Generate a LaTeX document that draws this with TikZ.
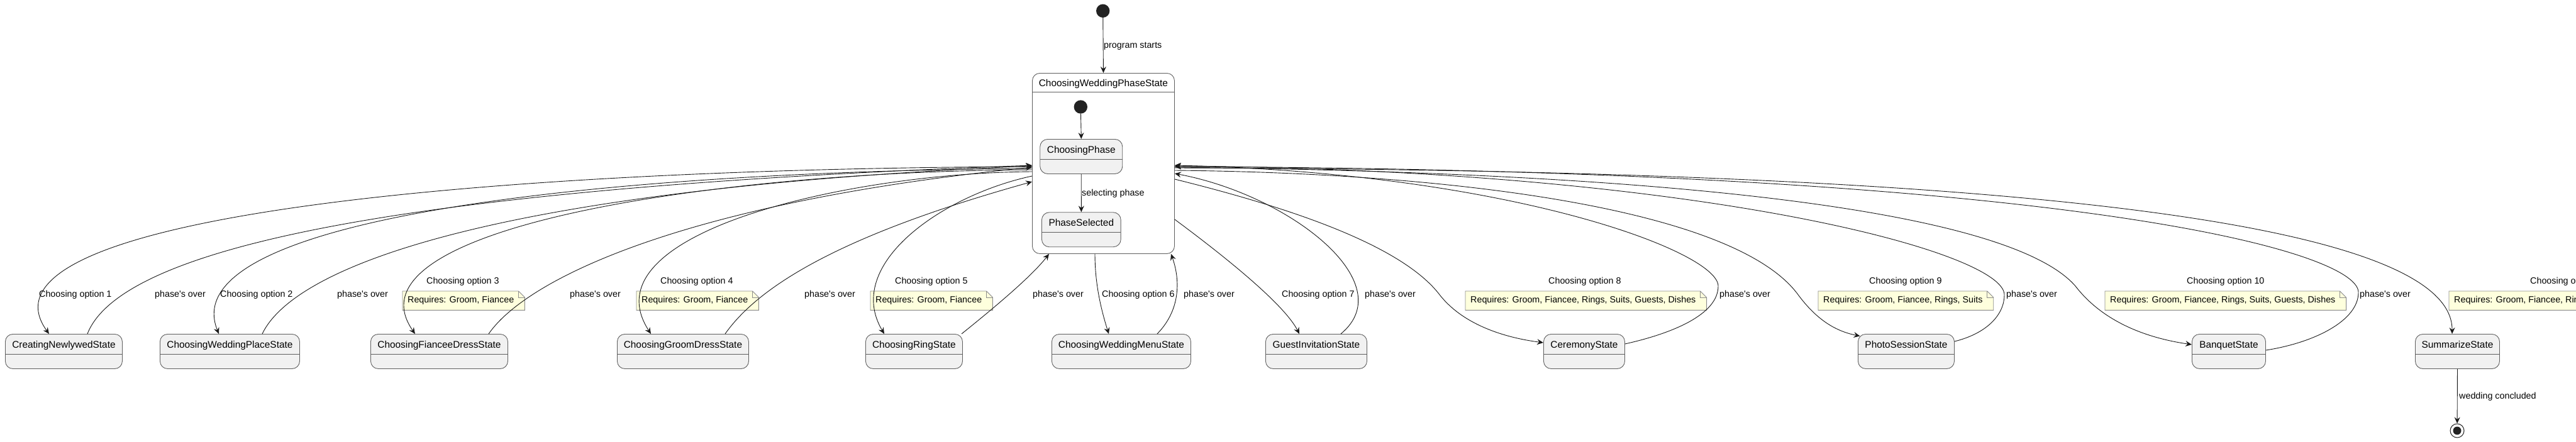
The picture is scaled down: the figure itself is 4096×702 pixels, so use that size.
\documentclass[tikz,border=0pt]{standalone}
\usepackage{fontspec}
\setmainfont{Liberation Sans}
\usetikzlibrary{arrows.meta}

\definecolor{statefill}{HTML}{F1F1F1}
\definecolor{stateline}{HTML}{5E5E5E}
\definecolor{notefill}{HTML}{FEFFDD}
\definecolor{noteline}{HTML}{8C8C8C}
\definecolor{dotfill}{HTML}{222222}
\newcommand{\statefont}{\fontsize{15.4pt}{18pt}\selectfont}
\newcommand{\linkfont}{\fontsize{14.3pt}{17pt}\selectfont}
\newcommand{\phover}{phase\textquotesingle s over}

\begin{document}
\begin{tikzpicture}[x=1pt, y=-1pt,
	state/.style={draw=stateline, fill=statefill, line width=0.9pt, rounded corners=12pt,
		anchor=north west, inner sep=0pt, text height=22pt, text depth=33pt, font=\statefont,
		path picture={\draw[stateline, line width=0.9pt] ([yshift=-31.7pt]path picture bounding box.north west) -- ([yshift=-31.7pt]path picture bounding box.north east);}},
	superstate/.style={draw=stateline, fill=white, line width=0.9pt, rounded corners=12pt,
		anchor=north west, inner sep=0pt, text height=21pt, text depth=266pt, font=\statefont,
		path picture={\draw[stateline, line width=0.9pt] ([yshift=-30pt]path picture bounding box.north west) -- ([yshift=-30pt]path picture bounding box.north east);}},
	dot/.style={circle, fill=dotfill, inner sep=0pt, minimum size=21.4pt},
	enddot/.style={circle, draw=dotfill, line width=1pt, fill=white, inner sep=0pt, minimum size=22pt,
		path picture={\fill[dotfill] (path picture bounding box.center) circle (6.5pt);}},
	trans/.style={-{Stealth[length=10pt, width=9pt, inset=3.5pt]}, line width=0.9pt, draw=black!90},
	link/.style={anchor=west, inner sep=0pt, font=\linkfont},
	note/.style={fill=notefill, anchor=north west, inner xsep=8pt, inner ysep=0pt, minimum height=30pt,
		font=\linkfont, execute at end node={\hspace*{9pt}}}
	]
	\useasboundingbox (0,0) rectangle (4096,702);
	\clip (0,0) rectangle (4096,702);

	% composite state
	\node[dot] (start) at (1753.7,17.3) {};
	\node[superstate, minimum width=226pt] (comp) at (1641,116) {ChoosingWeddingPhaseState};
	\node[dot] (substart) at (1718.3,170) {};
	\node[state, minimum width=131pt] (cphase) at (1653.3,221) {ChoosingPhase};
	\node[state, minimum width=125.7pt] (psel) at (1656,337.3) {PhaseSelected};

	% bottom row
	\node[state, minimum width=186pt] (newlywed) at (8,531) {CreatingNewlywedState};
	\node[state, minimum width=222pt] (place) at (254,531) {ChoosingWeddingPlaceState};
	\node[state, minimum width=218pt] (fiancee) at (589,531) {ChoosingFianceeDressState};
	\node[state, minimum width=209pt] (groom) at (981,531) {ChoosingGroomDressState};
	\node[state, minimum width=154pt] (ring) at (1376,531) {ChoosingRingState};
	\node[state, minimum width=221pt] (menu) at (1672,531) {ChoosingWeddingMenuState};
	\node[state, minimum width=161pt] (guest) at (2012,531) {GuestInvitationState};
	\node[state, minimum width=129pt] (ceremony) at (2454,531) {CeremonyState};
	\node[state, minimum width=153pt] (photo) at (2954,531) {PhotoSessionState};
	\node[state, minimum width=117pt] (banquet) at (3485,531) {BanquetState};
	\node[state, minimum width=134pt] (summarize) at (3840,531) {SummarizeState};
	\node[enddot] (stop) at (3907,685) {};

	% notes
	\node[note] (n3) at (640,463) {Requires: Groom, Fiancee};
	\node[note] (n4) at (1012,463) {Requires: Groom, Fiancee};
	\node[note] (n5) at (1384,463) {Requires: Groom, Fiancee};
	\node[note] (n8) at (2330,463) {Requires: Groom, Fiancee, Rings, Suits, Guests, Dishes};
	\node[note] (n9) at (2891,463) {Requires: Groom, Fiancee, Rings, Suits};
	\node[note] (n10) at (3347,463) {Requires: Groom, Fiancee, Rings, Suits, Guests, Dishes};
	\node[note] (n11) at (3894,463) {Requires: Groom, Fiancee, Rin};
	\foreach \n in {n3,n4,n5,n8,n9,n10,n11}{
		\fill[white] ([xshift=-10pt]\n.north east) -- ([shift={(1pt,1pt)}]\n.north east) -- ([yshift=-10pt]\n.north east) -- cycle;
		\draw[noteline, line width=0.9pt] (\n.north west) -- ([xshift=-10pt]\n.north east) -- ([yshift=-10pt]\n.north east) -- (\n.south east) -- (\n.south west) -- cycle;
		\draw[noteline, line width=0.9pt] ([xshift=-10pt]\n.north east) |- ([yshift=-10pt]\n.north east);
	}

	% straight transitions
	\draw[trans] (start) -- (comp.north);
	\draw[trans] (substart) -- (cphase.north);
	\draw[trans] (cphase.south) -- (psel.north);
	\draw[trans] (summarize.south) -- (stop);

	% left side
	\draw[trans] ([yshift=-149pt]comp.north west) .. controls (800,268) and (-60,340) .. ([xshift=70pt]newlywed.north west);
	\draw[trans] ([xshift=131pt]newlywed.north west) .. controls (190,400) and (600,300) .. ([yshift=-147pt]comp.north west);
	\draw[trans] ([yshift=-152pt]comp.north west) .. controls (1000,272) and (270,340) .. ([xshift=94pt]place.north west);
	\draw[trans] ([xshift=163pt]place.north west) .. controls (470,420) and (800,300) .. ([yshift=-148pt]comp.north west);
	\draw[trans] ([yshift=-154pt]comp.north west) .. controls (1150,272) and (540,360) .. ([xshift=71pt]fiancee.north west);
	\draw[trans] ([xshift=188pt]fiancee.north west) .. controls (840,440) and (1100,320) .. ([yshift=-150pt]comp.north west);
	\draw[trans] ([yshift=-157pt]comp.north west) .. controls (1350,275) and (930,370) .. ([xshift=54pt]groom.north west);
	\draw[trans] ([xshift=172pt]groom.north west) .. controls (1210,450) and (1350,370) .. ([yshift=-173pt]comp.north west);
	\draw[trans] ([yshift=-164pt]comp.north west) .. controls (1500,310) and (1340,420) .. ([xshift=30pt]ring.north west);

	% bottom side
	\draw[trans] ([xshift=153pt]ring.north west) .. controls (1580,490) and (1640,440) .. ([xshift=27pt]comp.south west);
	\draw[trans] ([xshift=100pt]comp.south west) .. controls (1741,450) and (1750,490) .. ([xshift=91pt]menu.north west);
	\draw[trans] ([xshift=168pt]menu.north west) .. controls (1880,490) and (1875,440) .. ([xshift=221pt]comp.south west);

	% right side
	\draw[trans] ([yshift=-233pt]comp.north east) .. controls (1930,395) and (2040,480) .. ([xshift=54pt]guest.north west);
	\draw[trans] ([xshift=120pt]guest.north west) .. controls (2230,450) and (2050,310) .. ([yshift=-160pt]comp.north east);
	\draw[trans] ([yshift=-169pt]comp.north east) .. controls (2050,330) and (2230,390) .. (2290,470)
		.. controls (2330,520) and (2400,538) .. ([yshift=-14pt]ceremony.north west);
	\draw[trans] ([yshift=-16pt]ceremony.north east) .. controls (2660,530) and (2732,500) .. (2732,455)
		.. controls (2732,400) and (2400,275) .. ([yshift=-147pt]comp.north east);
	\draw[trans] ([yshift=-155pt]comp.north east) .. controls (2300,275) and (2760,330) .. (2860,470)
		.. controls (2890,510) and (2920,527) .. ([shift={(3.5pt,-3.5pt)}]photo.north west);
	\draw[trans] ([yshift=-12pt]photo.north east) .. controls (3160,530) and (3187,500) .. (3187,469)
		.. controls (3187,400) and (2700,270) .. ([yshift=-148pt]comp.north east);
	\draw[trans] ([yshift=-150pt]comp.north east) .. controls (2700,275) and (3200,340) .. (3300,455)
		.. controls (3350,520) and (3430,540) .. ([yshift=-17pt]banquet.north west);
	\draw[trans] ([yshift=-26pt]banquet.north east) .. controls (3680,545) and (3750,510) .. (3750,465)
		.. controls (3750,400) and (3300,270) .. ([yshift=-149pt]comp.north east);
	\draw[trans] ([yshift=-151pt]comp.north east) .. controls (3000,270) and (3900,330) .. ([xshift=59pt]summarize.north west);

	% labels
	\node[link] (lstart) at (1755,73) {program starts};
	\node[link] (lsel) at (1720,308) {selecting phase};
	\node[link] (lopt1) at (62,469) {Choosing option 1};
	\node[link] (lover1) at (246,469) {\phover};
	\node[link] (lopt2) at (350,469) {Choosing option 2};
	\node[link] (lover2) at (536,469) {\phover};
	\node[link] (lopt3) at (678,448) {Choosing option 3};
	\node[link] (lover3) at (906,469) {\phover};
	\node[link] (lopt4) at (1050,448) {Choosing option 4};
	\node[link] (lover4) at (1279,469) {\phover};
	\node[link] (lopt5) at (1423,448) {Choosing option 5};
	\node[link] (lover5) at (1642,469) {\phover};
	\node[link] (lopt6) at (1752,469) {Choosing option 6};
	\node[link] (lover6) at (1882,469) {\phover};
	\node[link] (lopt7) at (2038,469) {Choosing option 7};
	\node[link] (lover7) at (2170,469) {\phover};
	\node[link] (lopt8) at (2462,448) {Choosing option 8};
	\node[link] (lover8) at (2734,469) {\phover};
	\node[link] (lopt9) at (2972,448) {Choosing option 9};
	\node[link] (lover9) at (3190,469) {\phover};
	\node[link] (lopt10) at (3477,448) {Choosing option 10};
	\node[link] (lover10) at (3752,469) {\phover};
	\node[link] (lopt11) at (4023,448) {Choosing o};
	\node[link] (lend) at (3910,631) {wedding concluded};
\end{tikzpicture}
\end{document}
